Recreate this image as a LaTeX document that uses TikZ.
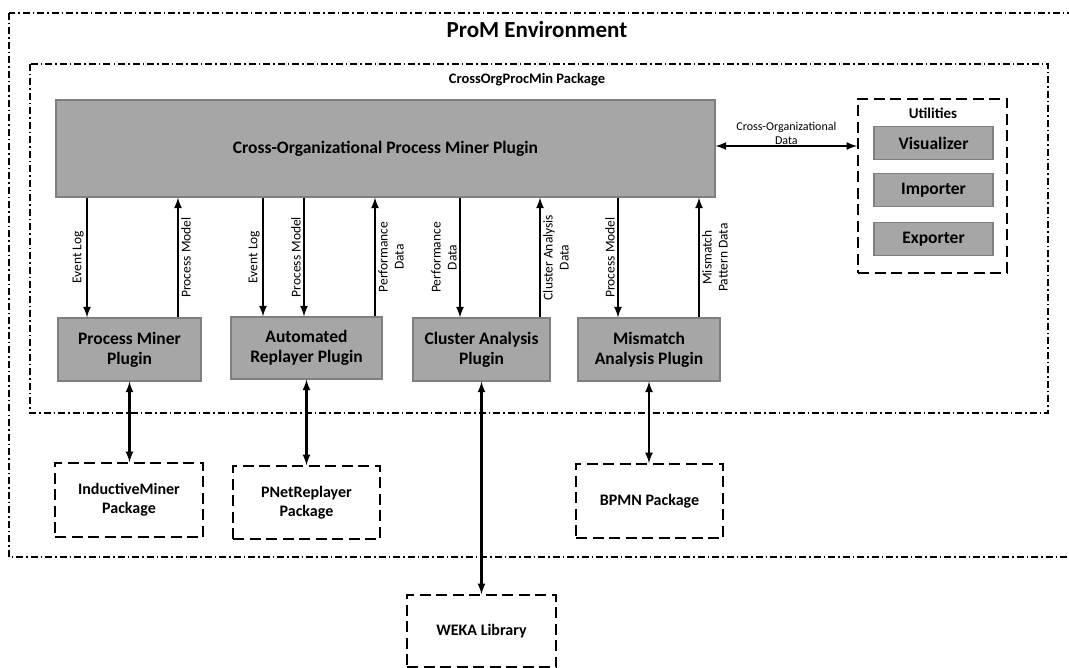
\documentclass[tikz,border=0pt]{standalone}
\usepackage{fontspec}
\setmainfont{Carlito}
\usepackage{tikz}
\usetikzlibrary{calc,positioning}
\definecolor{colorplug}{HTML}{A6A6A6}
\definecolor{colorline}{HTML}{7F7F7F}
\tikzset{
  edgedn/.style={black, line width=2.6pt, -latex},
  edgebi/.style={black, line width=2.6pt, latex-latex},
  boxplug/.style={draw=colorline, fill=colorplug, line width=1.2pt, align=center,
    font=\fontsize{17.5}{20}\selectfont\bfseries},
  boxpkg/.style={draw, line width=1.8pt, dash pattern=on 11pt off 5.5pt, align=center,
    font=\fontsize{16}{19}\selectfont\bfseries},
  frame/.style={line width=1.2pt, dash pattern=on 7pt off 3pt on 1.5pt off 3pt},
  lbl/.style={font=\fontsize{13.5}{16}\selectfont, align=center, inner sep=2pt}
}

\begin{document}
\begin{tikzpicture}[x=1pt, y=-1pt]
\useasboundingbox (0,0) rectangle (1069,668);
% environment and package frames
\draw[frame] (9,13) rectangle (1085,557);
\draw[frame] (30,64) rectangle (1048,413);
\node[font=\fontsize{23}{27}\selectfont\bfseries] (promlbl) at (537,30) {ProM Environment};
\node[font=\fontsize{14.5}{17}\selectfont\bfseries] (pkglbl) at (527,80) {CrossOrgProcMin Package};
% plugins
\node[boxplug, minimum width=659pt, minimum height=97pt] (main) at (385.5,148.5) {Cross-Organizational Process Miner Plugin};
\node[boxplug, minimum width=143pt, minimum height=63pt] (pm) at (129.5,349.5) {Process Miner\\Plugin};
\node[boxplug, minimum width=151pt, minimum height=62pt] (ar) at (306.5,348) {Automated\\Replayer Plugin};
\node[boxplug, minimum width=137pt, minimum height=63pt] (ca) at (481.5,349.5) {Cluster Analysis\\Plugin};
\node[boxplug, minimum width=142pt, minimum height=63pt] (ma) at (649,349.5) {Mismatch\\Analysis Plugin};
% utilities
\node[boxpkg, minimum width=149pt, minimum height=174pt] (util) at (932.5,186) {};
\node[font=\fontsize{15}{18}\selectfont\bfseries] (utillbl) at (933,113) {Utilities};
\node[boxplug, minimum width=119pt, minimum height=33pt] (vis) at (933.5,143) {Visualizer};
\node[boxplug, minimum width=119pt, minimum height=33pt] (imp) at (933.5,190) {Importer};
\node[boxplug, minimum width=119pt, minimum height=33pt] (exp) at (933.5,239) {Exporter};
% external packages
\node[boxpkg, minimum width=148pt, minimum height=74pt] (ind) at (129,500) {InductiveMiner\\Package};
\node[boxpkg, minimum width=147pt, minimum height=73pt] (pnet) at (306.5,502.5) {PNetReplayer\\Package};
\node[boxpkg, minimum width=147pt, minimum height=74pt] (bpmn) at (649.5,501) {BPMN Package};
\node[boxpkg, minimum width=149pt, minimum height=72pt] (weka) at (481.5,631) {WEKA Library};
% data flows
\draw[edgedn] (main.south -| 87,0) to node[midway, above, rotate=90, lbl] {Event Log} (pm.north -| 87,0);
\draw[edgedn] (pm.north -| 178,0) to node[midway, below, rotate=90, lbl] {Process Model} (main.south -| 178,0);
\draw[edgedn] (main.south -| 263,0) to node[midway, above, rotate=90, lbl] {Event Log} (ar.north -| 263,0);
\draw[edgedn] (main.south -| 304,0) to node[midway, above, rotate=90, lbl] {Process Model} (ar.north -| 304,0);
\draw[edgedn] (ar.north -| 375,0) to node[midway, below, rotate=90, lbl] {Performance\\Data} (main.south -| 375,0);
\draw[edgedn] (main.south -| 460,0) to node[midway, above, rotate=90, lbl] {Performance\\Data} (ca.north -| 460,0);
\draw[edgedn] (ca.north -| 540,0) to node[midway, below, rotate=90, lbl] {Cluster Analysis\\Data} (main.south -| 540,0);
\draw[edgedn] (main.south -| 618,0) to node[midway, above, rotate=90, lbl] {Process Model} (ma.north -| 618,0);
\draw[edgedn] (ma.north -| 699,0) to node[midway, below, rotate=90, lbl] {Mismatch\\Pattern Data} (main.south -| 699,0);
\draw[edgebi] (main.east |- 0,146) to node[midway, yshift=13pt, lbl, font=\fontsize{12}{14}\selectfont] {Cross-Organizational\\Data} (util.west |- 0,146);
\draw[edgebi] (pm.south) -- (pm.south |- ind.north);
\draw[edgebi] (ar.south) -- (ar.south |- pnet.north);
\draw[edgebi] (ca.south) -- (ca.south |- weka.north);
\draw[edgebi] (ma.south) -- (ma.south |- bpmn.north);
\end{tikzpicture}
\end{document}
